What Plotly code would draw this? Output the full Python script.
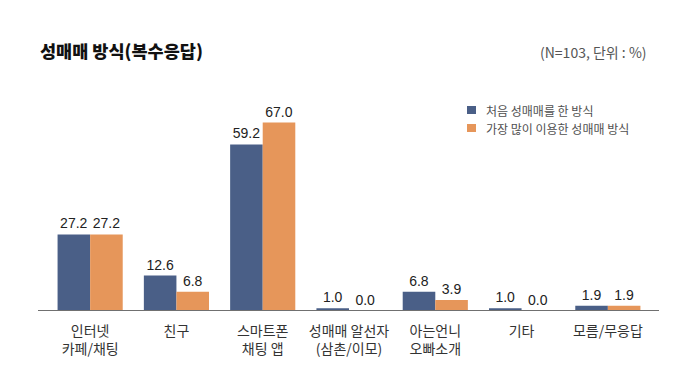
import plotly.graph_objects as go

categories = ["인터넷<br>카페/채팅", "친구", "스마트폰<br>채팅 앱", "성매매 알선자<br>(삼촌/이모)",
              "아는언니<br>오빠소개", "기타", "모름/무응답"]
first_method = [27.2, 12.6, 59.2, 1.0, 6.8, 1.0, 1.9]
most_used = [27.2, 6.8, 67.0, 0.0, 3.9, 0.0, 1.9]
series_names = ["처음 성매매를 한 방식", "가장 많이 이용한 성매매 방식"]
title_text = "성매매 방식(복수응답)"
note_text = "(N=103, 단위 : %)"

BLUE = "#4a5f87"
ORANGE = "#e6965a"
COLORS = [BLUE, ORANGE]
FONT = "Liberation Sans, Noto Sans CJK KR, sans-serif"
KFONT = "Noto Sans CJK KR, sans-serif"

# page body has an 8px default margin, so the figure is 8px smaller than the window
W, H = 671, 376
ML, MR, MT, MB = 39, 28, 92, 73
PW, PH = W - ML - MR, H - MT - MB


def px_x(x):
    return (x - ML) / PW


def px_y(y):
    return 1 - (y - MT) / PH


fig = go.Figure()
for name, vals, col in zip(series_names, [first_method, most_used], COLORS):
    fig.add_trace(go.Bar(
        x=categories, y=vals, name=name, marker=dict(color=col, line=dict(width=0)),
        text=[f"{v:.1f}" for v in vals], textposition="outside",
        textfont=dict(family=FONT, size=14, color="#222222"),
        cliponaxis=False, showlegend=False,
    ))

fig.update_layout(
    width=W, height=H,
    margin=dict(l=ML, r=MR, t=MT, b=MB),
    paper_bgcolor="white", plot_bgcolor="white",
    barmode="group", bargap=0.245, bargroupgap=0,
    font=dict(family=KFONT),
    xaxis=dict(showline=False, showgrid=False, zeroline=False, ticks="",
               tickfont=dict(family=KFONT, size=14, color="#333333"),
               ticklabelstandoff=10, range=[-0.5, 6.5], automargin=False),
    yaxis=dict(visible=False, range=[0, 75], fixedrange=True),
)

# baseline
fig.add_shape(type="line", xref="paper", yref="y", x0=px_x(30), x1=px_x(651), y0=0, y1=0,
              line=dict(color="#707070", width=2))

# manual legend
for i, (name, col) in enumerate(zip(series_names, COLORS)):
    yc = 102 + 18 * i
    fig.add_shape(type="rect", xref="paper", yref="paper",
                  x0=px_x(459), x1=px_x(468), y0=px_y(yc + 4), y1=px_y(yc - 4),
                  fillcolor=col, line=dict(width=0))
    fig.add_annotation(text=name, xref="paper", yref="paper",
                       x=px_x(476), y=px_y(yc), xanchor="left", yanchor="middle", showarrow=False,
                       font=dict(family=KFONT, size=12, color="#505050"))

fig.add_annotation(text=title_text, xref="paper", yref="paper",
                   x=px_x(30), y=px_y(42), xanchor="left", yanchor="middle", showarrow=False,
                   font=dict(family=KFONT, size=17.5, color="#111111", weight=900))
fig.add_annotation(text=note_text, xref="paper", yref="paper",
                   x=px_x(641), y=px_y(44), xanchor="right", yanchor="middle", showarrow=False,
                   font=dict(family=KFONT, size=14, color="#555555"))

fig.write_html("out.html")
